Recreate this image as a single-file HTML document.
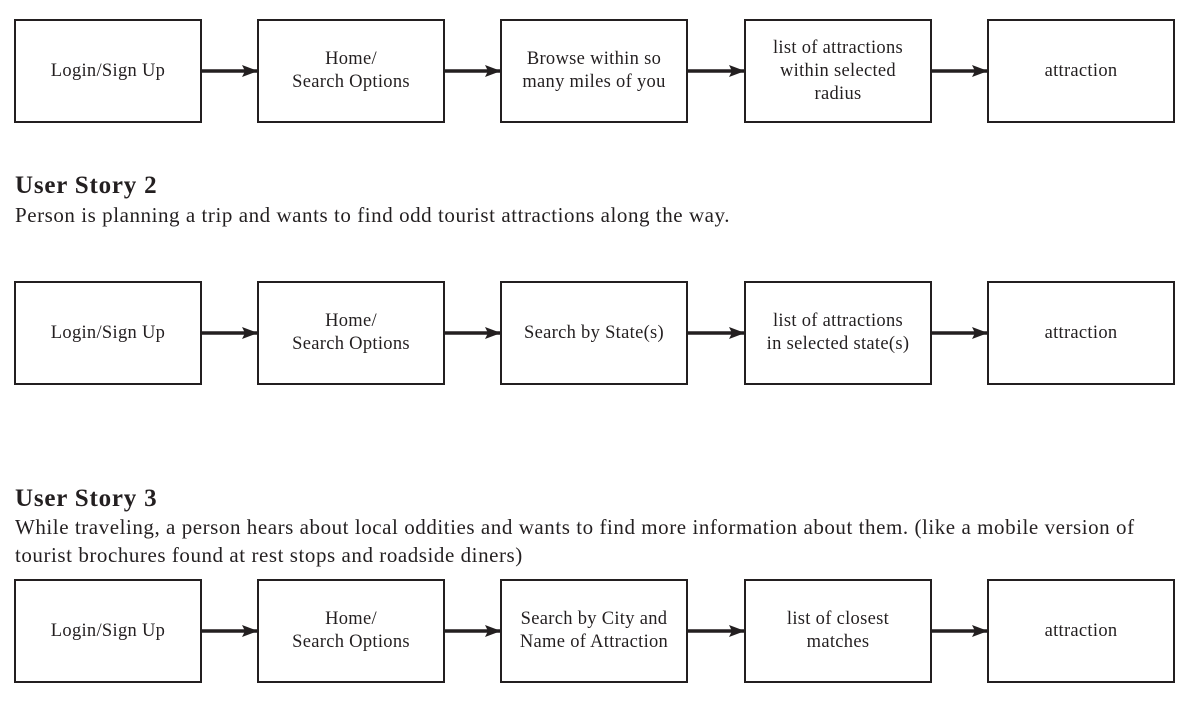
<!DOCTYPE html>
<html><head><style>
body{margin:0;background:#fff;width:1200px;height:702px;position:relative;overflow:hidden;font-family:"Liberation Serif",serif;color:#231f20}
.b{position:absolute;width:188px;height:104px;border:2px solid #231f20;box-sizing:border-box;display:flex;align-items:center;justify-content:center;text-align:center;font-size:18.5px;letter-spacing:0.3px;line-height:23px}
.h{position:absolute;left:15px;font-size:25px;letter-spacing:0.8px;font-weight:bold}
.t{position:absolute;left:15px;font-size:21px;letter-spacing:0.55px;line-height:28px;width:1170px}
svg{position:absolute;left:0;top:0}
</style></head><body>
<svg width="1200" height="702">
<defs><marker id="a" markerWidth="16" markerHeight="12" refX="15" refY="6" orient="auto" markerUnits="userSpaceOnUse"><path d="M0,0 L16,6 L0,12 L3,6 z" fill="#231f20"/></marker></defs>
<g stroke="#231f20" stroke-width="3.5" marker-end="url(#a)">
<line x1="201" y1="71" x2="257" y2="71"/><line x1="444" y1="71" x2="500" y2="71"/><line x1="687" y1="71" x2="744" y2="71"/><line x1="931" y1="71" x2="987" y2="71"/>
<line x1="201" y1="333" x2="257" y2="333"/><line x1="444" y1="333" x2="500" y2="333"/><line x1="687" y1="333" x2="744" y2="333"/><line x1="931" y1="333" x2="987" y2="333"/>
<line x1="201" y1="631" x2="257" y2="631"/><line x1="444" y1="631" x2="500" y2="631"/><line x1="687" y1="631" x2="744" y2="631"/><line x1="931" y1="631" x2="987" y2="631"/>
</g></svg>
<div class="b" style="left:14px;top:19px">Login/Sign Up</div>
<div class="b" style="left:257px;top:19px">Home/<br>Search Options</div>
<div class="b" style="left:500px;top:19px">Browse within so<br>many miles of you</div>
<div class="b" style="left:744px;top:19px">list of attractions<br>within selected<br>radius</div>
<div class="b" style="left:987px;top:19px">attraction</div>
<div class="h" style="top:172px">User Story 2</div>
<div class="t" style="top:201px">Person is planning a trip and wants to find odd tourist attractions along the way.</div>
<div class="b" style="left:14px;top:281px">Login/Sign Up</div>
<div class="b" style="left:257px;top:281px">Home/<br>Search Options</div>
<div class="b" style="left:500px;top:281px">Search by State(s)</div>
<div class="b" style="left:744px;top:281px">list of attractions<br>in selected state(s)</div>
<div class="b" style="left:987px;top:281px">attraction</div>
<div class="h" style="top:485px">User Story 3</div>
<div class="t" style="top:513px">While traveling, a person hears about local oddities and wants to find more information about them. (like a mobile version of<br>tourist brochures found at rest stops and roadside diners)</div>
<div class="b" style="left:14px;top:579px">Login/Sign Up</div>
<div class="b" style="left:257px;top:579px">Home/<br>Search Options</div>
<div class="b" style="left:500px;top:579px">Search by City and<br>Name of Attraction</div>
<div class="b" style="left:744px;top:579px">list of closest<br>matches</div>
<div class="b" style="left:987px;top:579px">attraction</div>
</body></html>
